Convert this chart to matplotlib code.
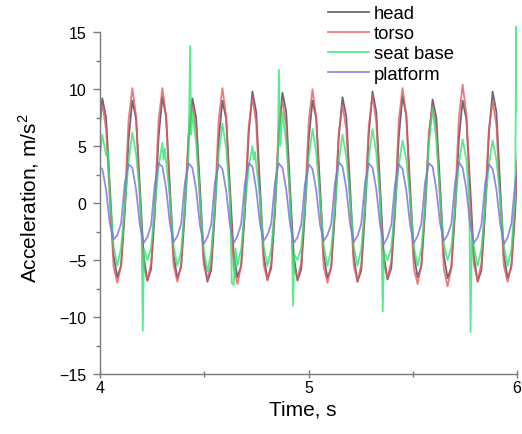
import matplotlib
matplotlib.use("Agg")
import matplotlib.pyplot as plt
from matplotlib.ticker import MultipleLocator

plt.rcParams["font.family"] = ["Liberation Sans", "DejaVu Sans"]
plt.rcParams["mathtext.fontset"] = "custom"
plt.rcParams["mathtext.rm"] = "Liberation Sans"

# sample times shared by head, torso and platform signals (s)
time_s = [3.993,
          4.011, 4.029, 4.047, 4.065, 4.083, 4.101, 4.119, 4.137,
          4.155, 4.173, 4.191, 4.209, 4.227, 4.245, 4.263, 4.281,
          4.299, 4.317, 4.335, 4.353, 4.371, 4.389, 4.407, 4.425,
          4.443, 4.461, 4.479, 4.497, 4.515, 4.533, 4.551, 4.569,
          4.587, 4.605, 4.623, 4.641, 4.659, 4.677, 4.695, 4.713,
          4.731, 4.749, 4.767, 4.785, 4.803, 4.821, 4.839, 4.857,
          4.875, 4.893, 4.911, 4.929, 4.947, 4.965, 4.983, 5.001,
          5.019, 5.037, 5.055, 5.073, 5.091, 5.109, 5.127, 5.145,
          5.163, 5.181, 5.199, 5.217, 5.235, 5.253, 5.271, 5.289,
          5.307, 5.325, 5.343, 5.361, 5.379, 5.397, 5.415, 5.433,
          5.451, 5.469, 5.487, 5.505, 5.523, 5.541, 5.559, 5.577,
          5.595, 5.613, 5.631, 5.649, 5.667, 5.685, 5.703, 5.721,
          5.739, 5.757, 5.775, 5.793, 5.811, 5.829, 5.847, 5.865,
          5.883, 5.901, 5.919, 5.937, 5.955, 5.973, 5.991, 6.009]

head = [5.5,
        9.2, 7.5, 1.5, -4.6, -6.5, -5.5, -0.8, 5.6,
        9.0, 7.4, 1.5, -4.6, -6.8, -5.8, -0.8, 5.8,
        9.3, 7.6, 1.5, -4.6, -6.6, -5.6, -0.8, 5.7,
        9.2, 7.5, 1.5, -4.7, -6.9, -5.9, -0.8, 5.6,
        9.0, 7.4, 1.5, -4.5, -6.5, -5.5, -0.8, 6.1,
        9.8, 8.0, 1.5, -4.6, -6.7, -5.7, -0.8, 6.0,
        9.7, 8.0, 1.5, -4.6, -6.8, -5.8, -0.8, 5.6,
        9.0, 7.4, 1.5, -4.6, -6.6, -5.6, -0.8, 5.8,
        9.3, 7.6, 1.5, -4.7, -6.9, -5.9, -0.8, 6.1,
        9.8, 8.0, 1.5, -4.6, -6.7, -5.7, -0.8, 5.8,
        9.4, 7.7, 1.5, -4.5, -6.5, -5.5, -0.8, 5.6,
        9.1, 7.5, 1.5, -4.6, -6.6, -5.6, -0.8, 5.6,
        9.0, 7.4, 1.5, -4.7, -6.9, -5.9, -0.8, 6.1,
        9.8, 8.0, 1.5, -4.6, -6.6, -5.6, -0.8, 6.0]

torso = [6.5,
         8.7, 6.5, 0.3, -5.6, -7.0, -5.5, 0.0, 7.3,
         10.1, 7.6, 0.3, -5.4, -6.8, -5.3, 0.0, 7.3,
         10.1, 7.6, 0.3, -5.5, -6.9, -5.4, 0.0, 6.2,
         8.6, 6.5, 0.2, -5.4, -6.7, -5.2, 0.0, 7.3,
         10.1, 7.6, 0.3, -5.7, -7.1, -5.5, 0.0, 6.7,
         9.3, 7.0, 0.3, -5.4, -6.8, -5.3, 0.0, 6.5,
         9.0, 6.8, 0.2, -5.4, -6.7, -5.2, 0.0, 7.2,
         10.0, 7.5, 0.3, -5.6, -7.0, -5.5, 0.0, 6.2,
         8.6, 6.5, 0.2, -5.5, -6.9, -5.4, 0.0, 6.8,
         9.5, 7.1, 0.3, -5.3, -6.6, -5.1, 0.0, 7.3,
         10.1, 7.6, 0.3, -5.7, -7.1, -5.5, 0.0, 6.2,
         8.6, 6.5, 0.2, -5.8, -7.3, -5.7, 0.0, 7.5,
         10.4, 7.8, 0.3, -5.4, -6.8, -5.3, 0.0, 6.5,
         9.0, 6.8, 0.2, -5.5, -6.9, -5.4, 0.0, 6.5]

platform = [3.2,
            3.0, 1.2, -1.8, -3.2, -2.8, -1.8, 1.8, 3.4,
            3.1, 1.2, -1.9, -3.5, -3.0, -1.9, 1.7, 3.5,
            3.2, 1.3, -1.8, -3.4, -2.9, -1.8, 1.8, 3.5,
            3.1, 1.2, -1.9, -3.6, -3.0, -1.9, 1.8, 3.4,
            3.0, 1.1, -1.9, -3.5, -2.9, -1.8, 1.7, 3.5,
            3.2, 1.2, -1.8, -3.3, -2.8, -1.8, 1.8, 3.5,
            3.1, 1.2, -1.8, -3.5, -3.0, -1.9, 1.7, 3.4,
            3.0, 1.1, -1.9, -3.3, -2.8, -1.8, 1.8, 3.6,
            3.2, 1.3, -1.8, -3.4, -2.9, -1.8, 1.8, 3.5,
            3.1, 1.2, -1.9, -3.6, -3.0, -1.9, 1.7, 3.4,
            3.0, 1.1, -1.9, -3.5, -2.9, -1.8, 1.8, 3.5,
            3.2, 1.2, -1.8, -3.3, -2.8, -1.8, 1.8, 3.6,
            3.1, 1.2, -1.9, -3.5, -3.0, -1.9, 1.7, 3.4,
            3.0, 1.2, -1.8, -3.6, -3.0, -1.8, 1.8, 3.4]

# seat base is noisier, so it keeps its own time stamps for the spikes
seat_time = [3.993,
             4.011, 4.029, 4.038, 4.047, 4.065, 4.083, 4.101, 4.119, 4.137,
             4.155, 4.173, 4.191, 4.199, 4.205, 4.211, 4.227, 4.245, 4.263, 4.281,
             4.299, 4.305, 4.311, 4.317, 4.335, 4.353, 4.371, 4.389, 4.407, 4.425, 4.432, 4.437,
             4.443, 4.461, 4.479, 4.497, 4.515, 4.533, 4.551, 4.569,
             4.587, 4.605, 4.623, 4.632, 4.641, 4.650, 4.659, 4.677, 4.695, 4.713,
             4.731, 4.737, 4.743, 4.749, 4.767, 4.785, 4.803, 4.821, 4.839, 4.852, 4.858, 4.864,
             4.875, 4.893, 4.911, 4.920, 4.926, 4.932, 4.947, 4.965, 4.983, 5.001,
             5.019, 5.037, 5.055, 5.073, 5.091, 5.109, 5.127, 5.145,
             5.163, 5.181, 5.199, 5.217, 5.235, 5.253, 5.271, 5.289,
             5.307, 5.325, 5.343, 5.350, 5.356, 5.362, 5.379, 5.397, 5.415, 5.433,
             5.451, 5.469, 5.487, 5.505, 5.523, 5.541, 5.559, 5.577,
             5.595, 5.613, 5.631, 5.649, 5.667, 5.685, 5.703, 5.721,
             5.739, 5.757, 5.771, 5.777, 5.783, 5.793, 5.811, 5.829, 5.847, 5.865,
             5.883, 5.901, 5.919, 5.937, 5.955, 5.973, 5.991, 5.996, 6.002]

seat_base = [3.0,
             6.0, 4.2, 4.6, 0.8, -3.8, -5.5, -3.9, -0.3, 3.6,
             6.2, 4.3, 0.8, -2.0, -11.2, -4.0, -5.0, -3.9, -0.3, 3.2,
             5.3, 3.8, 4.8, 3.6, 0.6, -3.8, -5.5, -4.2, -0.2, 4.4, 13.8, 6.0,
             8.0, 5.3, 0.6, -4.0, -6.0, -4.3, -0.3, 4.3,
             7.0, 4.8, 0.5, -7.0, -7.2, -4.0, -5.5, -4.0, -0.3, 3.2,
             5.0, 3.8, 4.5, 3.4, 0.5, -3.8, -5.5, -4.0, -0.3, 3.8, 11.7, 5.0,
             8.0, 5.3, 0.6, -3.0, -9.0, -4.5, -5.0, -3.9, -0.3, 4.0,
             6.5, 4.4, 0.5, -3.8, -5.5, -4.0, -0.3, 3.7,
             6.0, 4.1, 0.5, -3.8, -5.5, -4.0, -0.3, 4.0,
             6.5, 4.4, 0.5, -3.0, -9.5, -4.2, -5.0, -3.9, -0.3, 3.4,
             5.5, 3.8, 0.5, -3.8, -5.5, -4.0, -0.3, 5.2,
             8.3, 5.5, 0.6, -3.7, -5.0, -3.8, -0.3, 3.5,
             5.6, 3.8, 0.0, -11.3, -3.0, -3.8, -5.5, -4.0, -0.3, 3.4,
             5.5, 3.8, 0.5, -3.8, -5.5, -4.0, 0.5, 15.5, 8.0]

series_names = ["head", "torso", "seat base", "platform"]
line_colors = ["#4c4f60", "#e8585c", "#2ce670", "#7c78e0"]

x_ticks = [4, 5, 6]
y_ticks = [-15, -10, -5, 0, 5, 10, 15]

fig = plt.figure(figsize=(5.22, 4.35), dpi=100)
ax = fig.add_axes([0.1916, 0.1379, 0.7989, 0.8118])

ax.plot(time_s, head, color=line_colors[0], lw=1.3, alpha=0.85, label=series_names[0])
ax.plot(time_s, torso, color=line_colors[1], lw=1.3, alpha=0.8, label=series_names[1])
ax.plot(seat_time, seat_base, color=line_colors[2], lw=1.3, alpha=0.8, label=series_names[2])
ax.plot(time_s, platform, color=line_colors[3], lw=1.3, alpha=0.85, label=series_names[3])

ax.set_xlim(4, 6)
ax.set_ylim(-15, 16)
ax.set_xticks(x_ticks)
ax.set_yticks(y_ticks)
ax.xaxis.set_minor_locator(MultipleLocator(0.5))
ax.yaxis.set_minor_locator(MultipleLocator(2.5))

# only left and bottom axes, drawn in grey
for side in ["top", "right"]:
    ax.spines[side].set_visible(False)
for side in ["left", "bottom"]:
    ax.spines[side].set_color("#7a7a7a")
    ax.spines[side].set_linewidth(1.0)
ax.spines["left"].set_bounds(-15, 15)

ax.tick_params(axis="x", which="major", direction="inout", length=6, width=1,
               color="#7a7a7a", labelsize=11.5, pad=1)
ax.tick_params(axis="x", which="minor", direction="inout", length=5, width=1,
               color="#7a7a7a")
ax.tick_params(axis="y", which="major", direction="out", length=5, width=1,
               color="#7a7a7a", labelsize=11.5, pad=5)
ax.tick_params(axis="y", which="minor", direction="out", length=3, width=1,
               color="#7a7a7a")

ax.set_xlabel("Time, s", fontsize=15)
ax.set_ylabel("Acceleration, m/s$^2$", fontsize=15)
ax.xaxis.set_label_coords(0.487, -0.071)
ax.yaxis.set_label_coords(-0.141, 0.5)

fig.legend(loc="upper left", bbox_to_anchor=(328 / 522, 0.986), frameon=False,
           fontsize=13.3, handlelength=2.2, handletextpad=0.3,
           labelspacing=0.17, borderpad=0, borderaxespad=0)

fig.savefig("out.png", dpi=100)
